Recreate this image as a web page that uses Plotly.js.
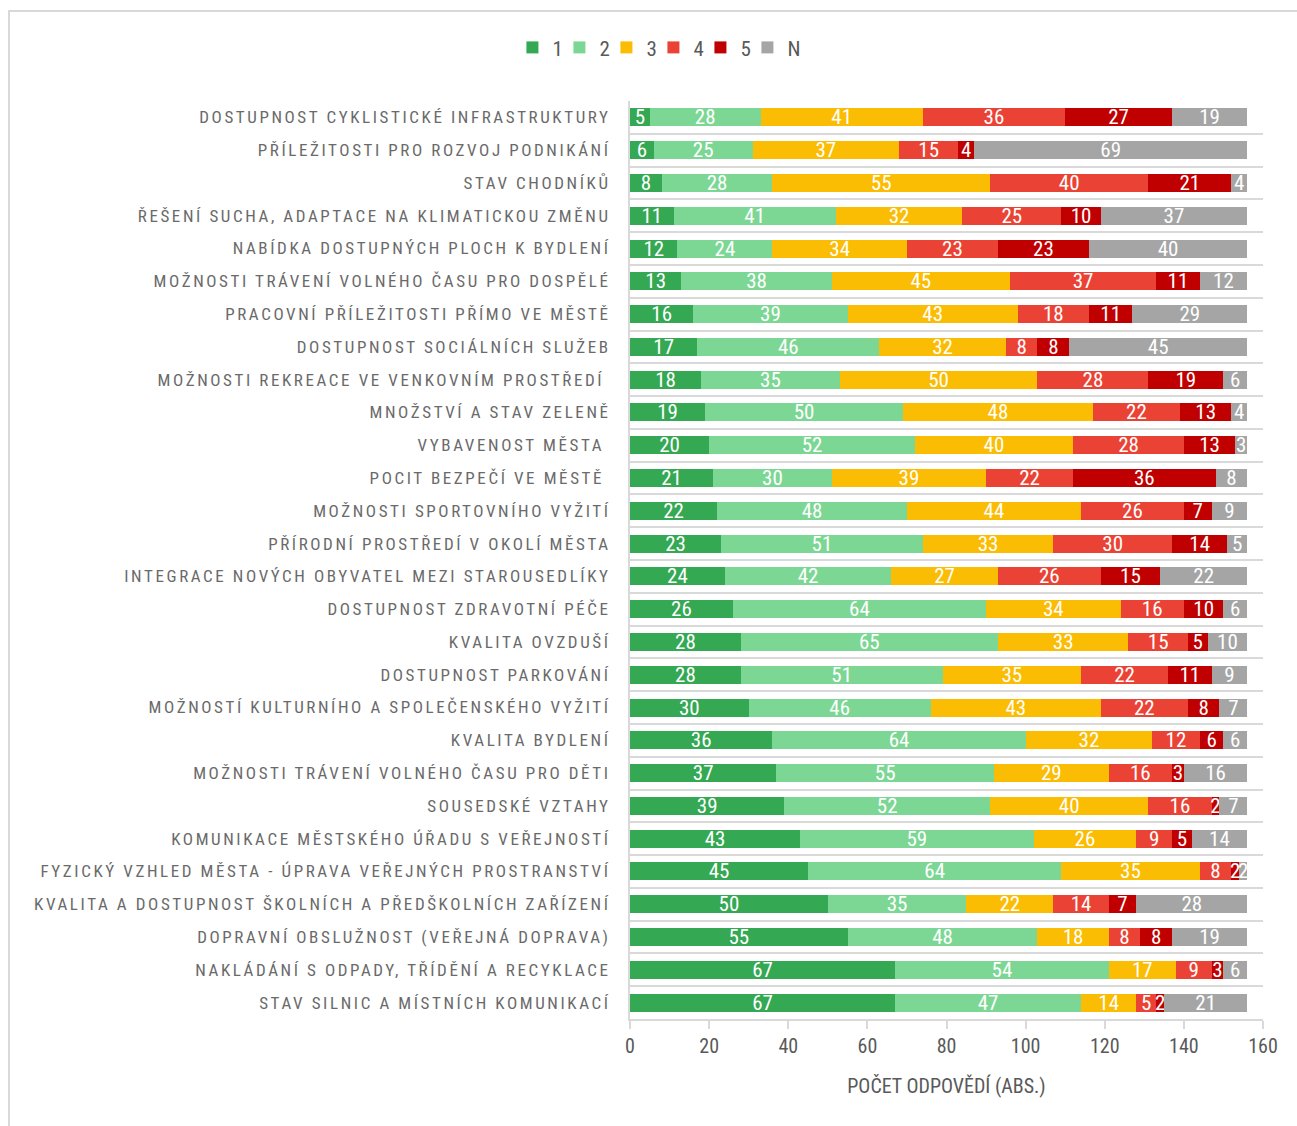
<!DOCTYPE html>
<html>
<head>
<meta charset="utf-8">
<script src="https://cdn.plot.ly/plotly-3.0.1.min.js"></script>
<style>
  html, body { margin: 0; padding: 0; background: #ffffff; overflow: hidden; }
  #frame { position: absolute; left: 8px; top: 10px; width: 1400px; height: 1300px;
           border: 2px solid #d9d9d9; box-sizing: border-box; pointer-events: none; }
  #chart { position: absolute; left: 0; top: 0; width: 1297px; height: 1126px; }
  #chart .ytick text { letter-spacing: 2.6px; }
  #chart .legend .scrollbox { clip-path: none !important; }
</style>
</head>
<body>
<div id="frame"></div>
<div id="chart"></div>
<script>
const categories = [
  "DOSTUPNOST CYKLISTICKÉ INFRASTRUKTURY",
  "PŘÍLEŽITOSTI PRO ROZVOJ PODNIKÁNÍ",
  "STAV CHODNÍKŮ",
  "ŘEŠENÍ SUCHA, ADAPTACE NA KLIMATICKOU ZMĚNU",
  "NABÍDKA DOSTUPNÝCH PLOCH K BYDLENÍ",
  "MOŽNOSTI TRÁVENÍ VOLNÉHO ČASU PRO DOSPĚLÉ",
  "PRACOVNÍ PŘÍLEŽITOSTI PŘÍMO VE MĚSTĚ",
  "DOSTUPNOST SOCIÁLNÍCH SLUŽEB",
  "MOŽNOSTI REKREACE VE VENKOVNÍM PROSTŘEDÍ\u00a0",
  "MNOŽSTVÍ A STAV ZELENĚ",
  "VYBAVENOST MĚSTA\u00a0",
  "POCIT BEZPEČÍ VE MĚSTĚ\u00a0",
  "MOŽNOSTI SPORTOVNÍHO VYŽITÍ",
  "PŘÍRODNÍ PROSTŘEDÍ V OKOLÍ MĚSTA",
  "INTEGRACE NOVÝCH OBYVATEL MEZI STAROUSEDLÍKY",
  "DOSTUPNOST ZDRAVOTNÍ PÉČE",
  "KVALITA OVZDUŠÍ",
  "DOSTUPNOST PARKOVÁNÍ",
  "MOŽNOSTÍ KULTURNÍHO A SPOLEČENSKÉHO VYŽITÍ",
  "KVALITA BYDLENÍ",
  "MOŽNOSTI TRÁVENÍ VOLNÉHO ČASU PRO DĚTI",
  "SOUSEDSKÉ VZTAHY",
  "KOMUNIKACE MĚSTSKÉHO ÚŘADU S VEŘEJNOSTÍ",
  "FYZICKÝ VZHLED MĚSTA - ÚPRAVA VEŘEJNÝCH PROSTRANSTVÍ",
  "KVALITA A DOSTUPNOST ŠKOLNÍCH A PŘEDŠKOLNÍCH ZAŘÍZENÍ",
  "DOPRAVNÍ OBSLUŽNOST (VEŘEJNÁ DOPRAVA)",
  "NAKLÁDÁNÍ S ODPADY, TŘÍDĚNÍ A RECYKLACE",
  "STAV SILNIC A MÍSTNÍCH KOMUNIKACÍ"
];

const s1 = [5, 6, 8, 11, 12, 13, 16, 17, 18, 19, 20, 21, 22, 23, 24, 26, 28, 28, 30, 36, 37, 39, 43, 45, 50, 55, 67, 67];
const s2 = [28, 25, 28, 41, 24, 38, 39, 46, 35, 50, 52, 30, 48, 51, 42, 64, 65, 51, 46, 64, 55, 52, 59, 64, 35, 48, 54, 47];
const s3 = [41, 37, 55, 32, 34, 45, 43, 32, 50, 48, 40, 39, 44, 33, 27, 34, 33, 35, 43, 32, 29, 40, 26, 35, 22, 18, 17, 14];
const s4 = [36, 15, 40, 25, 23, 37, 18, 8, 28, 22, 28, 22, 26, 30, 26, 16, 15, 22, 22, 12, 16, 16, 9, 8, 14, 8, 9, 5];
const s5 = [27, 4, 21, 10, 23, 11, 11, 8, 19, 13, 13, 36, 7, 14, 15, 10, 5, 11, 8, 6, 3, 2, 5, 2, 7, 8, 3, 2];
const sN = [19, 69, 4, 37, 40, 12, 29, 45, 6, 4, 3, 8, 9, 5, 22, 6, 10, 9, 7, 6, 16, 7, 14, 2, 28, 19, 6, 21];

const seriesNames = ["1", "2", "3", "4", "5", "N"];
const seriesValues = [s1, s2, s3, s4, s5, sN];
const seriesColors = ["#34a853", "#7dd794", "#fbbc04", "#ea4335", "#c00000", "#a5a5a5"];

const xTickVals = [0, 20, 40, 60, 80, 100, 120, 140, 160];

const FONT = "'Liberation Sans Narrow', 'Arial Narrow', 'Roboto Condensed', Roboto, 'Liberation Sans', sans-serif";

const traces = seriesNames.map((name, i) => ({
  type: "bar",
  orientation: "h",
  name: name,
  y: categories,
  x: seriesValues[i],
  text: seriesValues[i].map(String),
  textposition: "inside",
  insidetextanchor: "middle",
  textangle: 0,
  constraintext: "none",
  cliponaxis: false,
  textfont: { family: FONT, size: 21, color: "#ffffff" },
  marker: { color: seriesColors[i], line: { width: 0 } },
  hoverinfo: "skip"
}));

const layout = {
  width: 1297,
  height: 1126,
  barmode: "stack",
  bargap: 0.45,
  paper_bgcolor: "rgba(0,0,0,0)",
  plot_bgcolor: "rgba(0,0,0,0)",
  margin: { l: 630, r: 34, t: 101, b: 107 },
  font: { family: FONT, color: "#595959" },
  showlegend: true,
  legend: {
    orientation: "h",
    x: 0.037, xanchor: "center",
    y: 1.058, yanchor: "middle",
    font: { family: FONT, size: 21, color: "#595959" },
    itemwidth: 30,
    entrywidth: 2,
    entrywidthmode: "pixels",
    traceorder: "normal",
    bgcolor: "rgba(0,0,0,0)"
  },
  xaxis: {
    range: [0, 160],
    tickvals: xTickVals,
    ticktext: xTickVals.map(String),
    showgrid: false,
    zeroline: false,
    showline: true,
    linecolor: "#d9d9d9",
    linewidth: 2,
    ticks: "outside",
    ticklen: 8,
    tickwidth: 2,
    tickcolor: "#d9d9d9",
    tickfont: { family: FONT, size: 20, color: "#595959" },
    title: { text: "POČET ODPOVĚDÍ (ABS.)", standoff: 22, font: { family: FONT, size: 20, color: "#595959" } },
    fixedrange: true
  },
  yaxis: {
    type: "category",
    autorange: "reversed",
    tickson: "boundaries",
    showgrid: true,
    gridcolor: "#d9d9d9",
    gridwidth: 2,
    showline: true,
    linecolor: "#d9d9d9",
    linewidth: 2,
    ticks: "",
    ticklabelstandoff: 14,
    tickfont: { family: FONT, size: 17, color: "#6a6a6a" },
    fixedrange: true
  }
};

Plotly.newPlot("chart", traces, layout, { displayModeBar: false, staticPlot: true });
</script>
</body>
</html>
